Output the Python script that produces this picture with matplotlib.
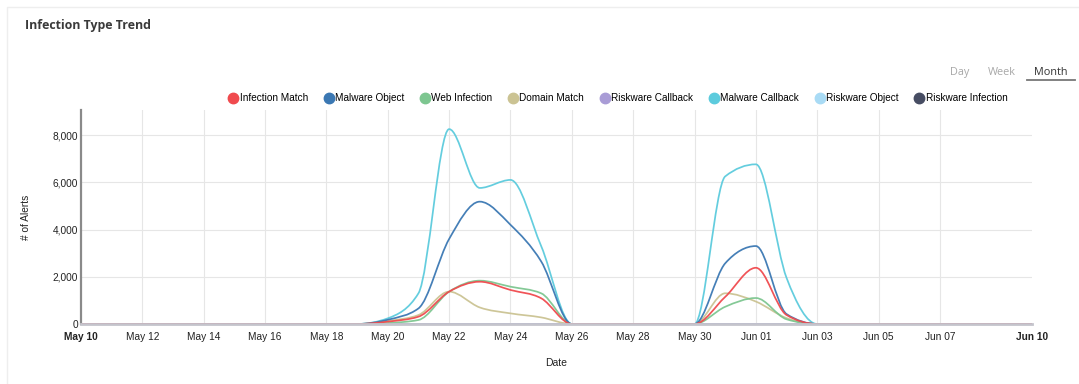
import datetime as dt
import numpy as np
import matplotlib
matplotlib.use("Agg")
import matplotlib.pyplot as plt
import matplotlib.dates as mdates
from matplotlib.path import Path
from matplotlib.patches import PathPatch
from matplotlib.lines import Line2D

plt.rcParams['font.family'] = ['Liberation Sans', 'DejaVu Sans']

# daily alert counts, May 10 .. Jun 10
start = dt.date(2021, 5, 10)
days = [start + dt.timedelta(days=i) for i in range(32)]

infection_match = [0, 0, 0, 0, 0, 0, 0, 0, 0, 0, 100, 310, 1370, 1790, 1440, 1090,
                   0, 0, 0, 0, 0, 1150, 2380, 380, 0, 0, 0, 0, 0, 0, 0, 0]
malware_object = [0, 0, 0, 0, 0, 0, 0, 0, 0, 0, 180, 660, 3600, 5180, 4200, 2650,
                  0, 0, 0, 0, 0, 2570, 3300, 420, 0, 0, 0, 0, 0, 0, 0, 0]
web_infection = [0, 0, 0, 0, 0, 0, 0, 0, 0, 0, 40, 170, 1370, 1835, 1580, 1300,
                 0, 0, 0, 0, 0, 730, 1100, 200, 0, 0, 0, 0, 0, 0, 0, 0]
domain_match = [0, 0, 0, 0, 0, 0, 0, 0, 0, 0, 130, 380, 1370, 700, 450, 280,
                0, 0, 0, 0, 0, 1300, 950, 250, 0, 0, 0, 0, 0, 0, 0, 0]
riskware_callback = [0, 0, 0, 0, 0, 0, 0, 0, 0, 0, 0, 0, 0, 0, 0, 0,
                     0, 0, 0, 0, 0, 0, 0, 0, 0, 0, 0, 0, 0, 0, 0, 0]
malware_callback = [0, 0, 0, 0, 0, 0, 0, 0, 0, 0, 240, 1300, 8250, 5760, 6100, 3300,
                    0, 0, 0, 0, 0, 6250, 6760, 1950, 0, 0, 0, 0, 0, 0, 0, 0]
riskware_object = [0, 0, 0, 0, 0, 0, 0, 0, 0, 0, 0, 0, 0, 0, 0, 0,
                   0, 0, 0, 0, 0, 0, 0, 0, 0, 0, 0, 0, 0, 0, 0, 0]
riskware_infection = [0, 0, 0, 0, 0, 0, 0, 0, 0, 0, 0, 0, 0, 0, 0, 0,
                      0, 0, 0, 0, 0, 0, 0, 0, 0, 0, 0, 0, 0, 0, 0, 0]

series = [
    ("Infection Match", infection_match, "#f04a4e"),
    ("Malware Object", malware_object, "#3b78b3"),
    ("Web Infection", web_infection, "#7dc690"),
    ("Domain Match", domain_match, "#cbc393"),
    ("Riskware Callback", riskware_callback, "#a99cd6"),
    ("Malware Callback", malware_callback, "#5ccbdd"),
    ("Riskware Object", riskware_object, "#a9dbf5"),
    ("Riskware Infection", riskware_infection, "#474d63"),
]

y_ticks = [0, 2000, 4000, 6000, 8000]
x_ticks = [start + dt.timedelta(days=2 * i) for i in range(15)] + [days[-1]]


def monotone_path(x, y):
    # monotone cubic curve through the points, as bezier segments
    x = np.asarray(x, float)
    y = np.asarray(y, float)
    n = len(x)
    h = np.diff(x)
    s = np.diff(y) / h
    t = np.zeros(n)
    for i in range(1, n - 1):
        p = (s[i - 1] * h[i] + s[i] * h[i - 1]) / (h[i - 1] + h[i])
        t[i] = (np.sign(s[i - 1]) + np.sign(s[i])) * min(abs(s[i - 1]), abs(s[i]), 0.5 * abs(p))
    t[0] = (3 * s[0] - t[1]) / 2
    t[-1] = (3 * s[-1] - t[-2]) / 2
    verts = [(x[0], y[0])]
    codes = [Path.MOVETO]
    for i in range(n - 1):
        d = h[i] / 3
        verts += [(x[i] + d, y[i] + d * t[i]), (x[i + 1] - d, y[i + 1] - d * t[i + 1]), (x[i + 1], y[i + 1])]
        codes += [Path.CURVE4] * 3
    return Path(verts, codes)


fig = plt.figure(figsize=(10.79, 3.84), dpi=100)
fig.patch.set_facecolor("white")
ax = fig.add_axes([81 / 1079, 1 - 324 / 384, (1032 - 81) / 1079, (324 - 110) / 384])

xnum = mdates.date2num(days)
for name, vals, col in reversed(series):
    ax.add_patch(PathPatch(monotone_path(xnum, vals), facecolor="none", edgecolor=col,
                           lw=1.25, alpha=0.95, capstyle="round", joinstyle="round"))

ax.set_xlim(xnum[0], xnum[-1])
ax.set_ylim(0, 9060)
ax.set_yticks(y_ticks)
ax.set_yticklabels([f"{v:,}" for v in y_ticks])
ax.set_xticks(mdates.date2num(x_ticks))
ax.set_xticklabels([d.strftime("%b %d") for d in x_ticks])
for lbl in (ax.get_xticklabels()[0], ax.get_xticklabels()[-1]):
    lbl.set_fontweight("bold")

ax.tick_params(axis="both", length=0, labelsize=7.3, colors="#222222")
ax.tick_params(axis="x", pad=6)
ax.tick_params(axis="y", pad=2)
ax.grid(True, color="#e6e6e6", lw=0.8)
ax.set_axisbelow(True)
ax.xaxis.get_gridlines()[0].set_visible(False)
ax.xaxis.get_gridlines()[-1].set_visible(False)

for side in ("top", "right"):
    ax.spines[side].set_visible(False)
ax.spines["left"].set_color("#8a8a8a")
ax.spines["left"].set_linewidth(1.6)
ax.spines["bottom"].set_color("#c4c4cc")
ax.spines["bottom"].set_linewidth(2.0)

ax.set_xlabel("Date", fontsize=7.5, color="#222222", labelpad=11)
fig.text(26 / 1079, 1 - 217 / 384, "# of Alerts", rotation=90, fontsize=7.3,
         color="#222222", ha="center", va="center")

handles = [Line2D([], [], marker="o", ls="none", ms=7.5, color=c, mec=c) for _, _, c in series]
fig.legend(handles, [n for n, _, _ in series], loc="center", bbox_to_anchor=(618 / 1079, 1 - 98 / 384),
           ncol=8, frameon=False, fontsize=7.2, handlelength=0.95, handletextpad=0.15,
           columnspacing=1.6, borderpad=0)

# card header
fig.text(25 / 1079, 1 - 25 / 384, "Infection Type Trend", fontsize=8.9, fontweight="bold",
         family="Open Sans", color="#3a3a3a", ha="left", va="center")
for label, xc, col in [("Day", 960, "#a8a8a8"), ("Week", 1002, "#a8a8a8"), ("Month", 1051, "#333333")]:
    fig.text(xc / 1079, 1 - 75 / 384, label, fontsize=7.8, family="Open Sans", color=col,
             ha="center", va="baseline")
fig.add_artist(Line2D([1027 / 1079, 1075 / 1079], [1 - 80 / 384] * 2, color="#777777", lw=1.3))

# faint card edge
fig.add_artist(Line2D([7 / 1079, 7 / 1079, 1], [0, 1 - 7 / 384, 1 - 7 / 384], color="#eeeeee", lw=1))

fig.savefig("out.png", dpi=100)
